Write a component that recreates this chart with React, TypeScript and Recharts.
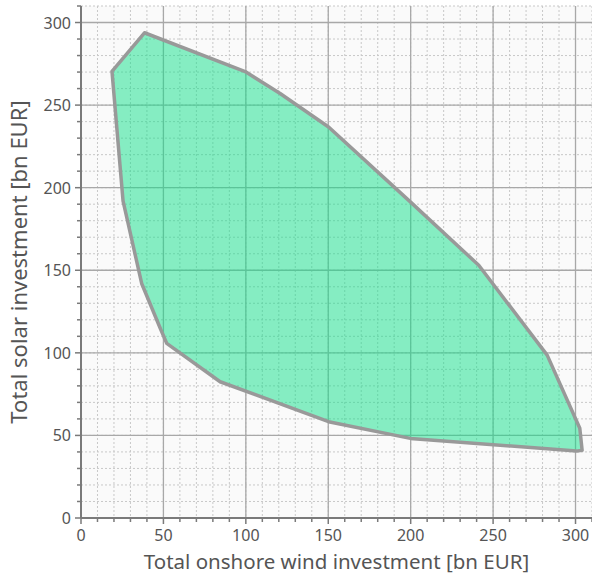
import React from "react";
import {
  ScatterChart,
  Scatter,
  XAxis,
  YAxis,
  CartesianGrid,
} from "recharts";

// Feasible region outline, traced around the hull (onshore wind, solar) in bn EUR
const windValues = [18.8, 38.5, 99.6, 120.8, 150.2, 199.8, 241.3, 282.8, 302.6, 304, 300.6, 199.8, 150.2, 84.4, 52, 48, 36.8, 25.5];
const solarValues = [270.4, 293.8, 270.3, 257, 236.7, 191.4, 153, 98.6, 54.3, 41, 40.5, 48.2, 58.3, 82.5, 105.7, 115, 142, 192];

const majorTicks = [0, 50, 100, 150, 200, 250, 300];
const minorTicks = Array.from({ length: 32 }, (_, i) => i * 10);

const hull = windValues.map((w, i) => ({ wind: w, solar: solarValues[i] }));

const FONT = "'Noto Sans', 'Open Sans', sans-serif";
const AXIS = "#7a7a7a";
const TICK_SIZE = 6;
const TICK_MARGIN = 4;

function XTick(props: any) {
  const { x, y, payload } = props;
  const axisY = y - TICK_SIZE - TICK_MARGIN;
  const major = payload.value % 50 === 0;
  return (
    <g>
      <line x1={x} x2={x} y1={axisY} y2={axisY + (major ? 6 : 4)} stroke={AXIS} strokeWidth={1.5} />
      {major && (
        <text x={x} y={axisY + 23} textAnchor="middle" fontSize={16} fill="#555" fontFamily={FONT}>
          {payload.value}
        </text>
      )}
    </g>
  );
}

function YTick(props: any) {
  const { x, y, payload } = props;
  const axisX = x + TICK_SIZE + TICK_MARGIN;
  const major = payload.value % 50 === 0;
  return (
    <g>
      <line x1={axisX} x2={axisX - (major ? 6 : 4)} y1={y} y2={y} stroke={AXIS} strokeWidth={1.5} />
      {major && (
        <text x={axisX - 10} y={y + 6} textAnchor="end" fontSize={16} fill="#555" fontFamily={FONT}>
          {payload.value}
        </text>
      )}
    </g>
  );
}

// draws the closed polygon from the points the library already scaled
function HullShape(props: any) {
  const pts = (props.points || []).map((p: any) => `${p.x},${p.y}`).join(" ");
  return (
    <polygon
      points={pts}
      fill="#0fdf8a"
      fillOpacity={0.5}
      stroke="#999"
      strokeWidth={3.5}
      strokeLinejoin="round"
    />
  );
}

export default function App() {
  return (
    <div style={{ position: "absolute", left: 0, top: 0, background: "#fff" }}>
      <ScatterChart width={592} height={575} margin={{ top: 6, right: 0, left: 0, bottom: 0 }}>
        <CartesianGrid
          fill="#fafafa"
          stroke="#c8c8c8"
          strokeDasharray="2 2"
          verticalValues={minorTicks}
          horizontalValues={minorTicks}
        />
        <CartesianGrid
          stroke="#a8a8a8"
          strokeWidth={1.3}
          verticalValues={majorTicks}
          horizontalValues={majorTicks}
        />
        <XAxis
          type="number"
          dataKey="wind"
          domain={[0, 310]}
          ticks={minorTicks}
          interval={0}
          height={57}
          tickSize={TICK_SIZE}
          tickMargin={TICK_MARGIN}
          tickLine={false}
          tick={<XTick />}
          axisLine={{ stroke: AXIS, strokeWidth: 2 }}
          label={{
            value: "Total onshore wind investment [bn EUR]",
            position: "insideBottom",
            offset: 6,
            style: { fontSize: 20.5, fill: "#555", fontFamily: FONT },
          }}
        />
        <YAxis
          type="number"
          dataKey="solar"
          domain={[0, 310]}
          ticks={minorTicks}
          interval={0}
          width={81}
          tickSize={TICK_SIZE}
          tickMargin={TICK_MARGIN}
          tickLine={false}
          tick={<YTick />}
          axisLine={{ stroke: AXIS, strokeWidth: 2 }}
          label={{
            value: "Total solar investment [bn EUR]",
            angle: -90,
            position: "insideLeft",
            offset: 19,
            style: { fontSize: 22, fill: "#555", fontFamily: FONT, textAnchor: "middle" },
          }}
        />
        <Scatter
          data={hull}
          line={(p: any) => <HullShape {...p} />}
          lineType="joint"
          shape={() => <g />}
          isAnimationActive={false}
        />
      </ScatterChart>
    </div>
  );
}
